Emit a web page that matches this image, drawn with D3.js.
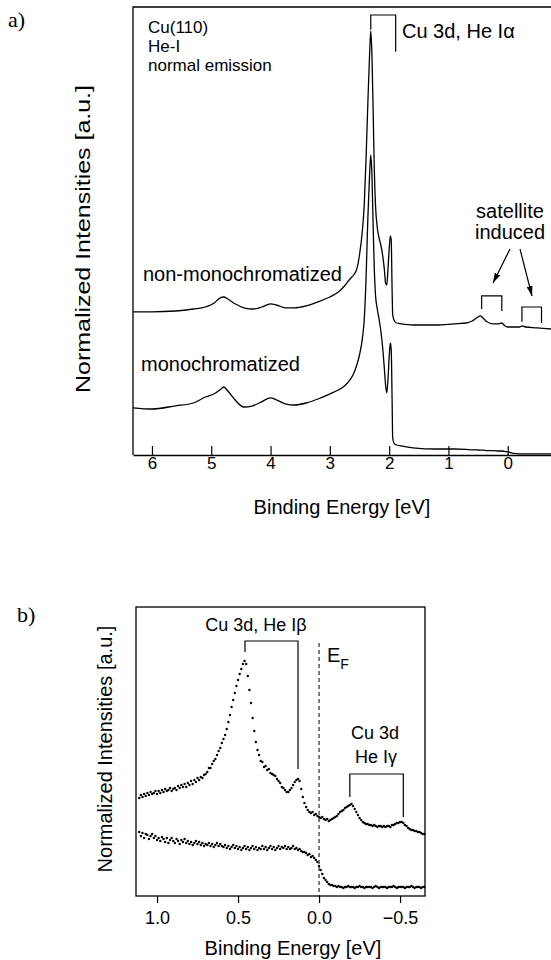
<!DOCTYPE html>
<html>
<head>
<meta charset="utf-8">
<script src="https://cdn.jsdelivr.net/npm/d3@7"></script>
<style>
body { margin: 0; background: #fff; }
svg text { font-family: "Liberation Sans", Arial, Helvetica, sans-serif; fill: #000; }
</style>
</head>
<body>
<script>
// panel a) : Cu(110) He-I spectra, binding energy in eV
var aEnergy = [6.32, 6.0, 5.6, 5.3, 5.1, 4.95, 4.85, 4.79, 4.72, 4.6, 4.45, 4.3, 4.15, 4.0, 3.9,
  3.75, 3.6, 3.4, 3.2, 3.0, 2.85, 2.75, 2.66, 2.6, 2.55, 2.5, 2.45, 2.42, 2.39, 2.36, 2.33,
  2.31, 2.29, 2.27, 2.25, 2.23, 2.2, 2.17, 2.14, 2.11, 2.08, 2.06, 2.04, 2.02, 2.0, 1.98,
  1.965, 1.95, 1.94, 1.92, 1.88, 1.8, 1.6, 1.2, 0.9, 0.7, 0.6, 0.52, 0.46, 0.42, 0.35, 0.25,
  0.15, 0.1, 0.05, 0.0, -0.1, -0.2, -0.24, -0.3, -0.5, -0.73];
var aNonMono = [35.8, 35.8, 36.0, 36.5, 37.0, 38.0, 39.3, 39.5, 39.0, 37.8, 36.8, 36.5, 37.0, 37.8, 37.5,
  36.8, 36.8, 37.3, 38.3, 39.5, 40.8, 42.3, 44.0, 45.0, 46.3, 50.0, 56.3, 62.5, 73.8, 87.5, 100.0,
  106.0, 100.0, 86.3, 71.3, 62.5, 56.8, 54.3, 52.5, 50.0, 46.3, 43.0, 42.5, 46.3, 51.3, 54.8,
  53.8, 41.3, 35.0, 33.8, 33.0, 32.8, 32.5, 32.5, 32.8, 33.0, 33.5, 34.3, 34.8, 34.3, 33.3, 32.8,
  32.8, 33.0, 32.3, 32.0, 32.0, 32.0, 32.3, 32.0, 31.8, 31.5];
var aMono = [11.8, 11.5, 12.3, 13.0, 14.5, 15.3, 16.3, 17.0, 16.0, 13.8, 12.0, 12.3, 13.3, 14.3, 13.8,
  12.8, 12.5, 13.0, 14.0, 15.3, 16.3, 17.3, 18.8, 20.3, 22.3, 25.0, 29.3, 33.8, 43.8, 58.8, 70.0,
  75.0, 70.0, 57.5, 46.3, 40.0, 36.5, 34.0, 31.0, 27.0, 21.5, 17.5, 15.5, 18.8, 24.3, 28.0,
  26.3, 13.8, 4.3, 3.0, 2.5, 2.3, 1.8, 1.5, 1.5, 1.4, 1.3, 1.3, 1.2, 1.2, 1.1, 1.1,
  1.0, 1.0, 0.9, 0.8, 0.4, 0.3, 0.3, 0.3, 0.3, 0.3];
var aTicks = [6, 5, 4, 3, 2, 1, 0];

// panel b) : near E_F, upper = He I beta/gamma satellites, lower = monochromatized
var bEnergy = d3.range(111, -66, -1).map(function(d) { return d / 100; });
var bUpper = [49, 50.5, 49.5, 51, 50, 51.5, 50.5, 52, 51, 51.5, 52.5, 51,
  52.5, 51.5, 53, 52, 53.5, 52.5, 53, 54, 52.5, 53.5,
  54, 53, 55, 54, 55.5, 54.5, 56, 54.5, 56.5, 55.5,
  57.5, 56, 58, 57, 59, 58, 59.5, 59, 60.5, 61,
  62, 64, 64, 66, 67.5, 68.5, 70.5, 72.5, 74, 76.5,
  78.5, 80.5, 83.5, 87, 90.5, 94.5, 98, 101.5, 105, 108,
  111, 113.5, 116, 117.5, 116, 110, 103, 96.5, 89, 82.5,
  77, 73, 70.5, 67.5, 67, 64.5, 65, 63, 63.5, 61.5,
  61, 60.5, 60, 58.5, 57.5, 56.5, 54.5, 54, 53, 52,
  52, 53, 54, 55.5, 57, 58, 58.5, 57.5, 53.5, 49.5,
  46.5, 44.5, 43, 42, 41.5, 42, 40.5, 41, 40, 39.5,
  39, 39.5, 38.5, 38, 38.5, 37.5, 38, 38.5, 39, 39.5,
  40, 41, 42, 42.5, 43, 44, 44.5, 45, 45.5, 46,
  45, 43.5, 42, 40.5, 39, 38, 37, 36.5, 36, 36,
  35.5, 35.5, 35, 35.5, 35, 34.5, 35, 35, 34.5, 35,
  34.5, 35, 35, 34.5, 35.5, 35.5, 36, 36.5, 36.5, 37,
  37, 36.5, 35.5, 35, 34, 33.5, 33, 33, 32.5, 32.5,
  32, 32, 31.5, 31, 31];
var bLower = [32, 30, 31.5, 29, 31, 30.5, 28.5, 30, 31, 29, 30, 28,
  29, 27.5, 29.5, 28.5, 27, 29, 26.5, 28, 29, 27.5,
  26.5, 28.5, 27.5, 26, 28, 27, 28.5, 26.5, 27.5, 26,
  27, 25.5, 26.5, 27.5, 26, 27, 25.5, 26.5, 25, 26,
  25.5, 26.5, 25, 26, 24.5, 25.5, 26.5, 25, 26, 25,
  24.5, 25.5, 24, 25, 23.5, 24.5, 25.5, 24, 25, 23.5,
  24.5, 23, 24, 25, 23.5, 24.5, 23, 24, 25, 23.5,
  24.5, 23, 24, 23.5, 25, 23.5, 24.5, 23, 24, 25,
  23.5, 24.5, 23, 24, 25, 23.5, 24.5, 24, 25, 23.5,
  24.5, 23.5, 24, 25, 23.5, 24, 23, 23.5, 22.5, 22,
  22, 21.5, 20.5, 21, 19.5, 20, 19, 18, 17, 15,
  13, 11, 9, 8, 7, 6, 5.5, 5.5, 5, 5,
  4.5, 5, 4.5, 4.5, 4, 4.5, 4.5, 5, 4.5, 4.5,
  4.5, 4, 4.5, 4.5, 5, 4.5, 4.5, 4, 4.5, 4.5,
  4.5, 4.5, 4, 4.5, 5, 4.5, 4, 4.5, 4.5, 4.5,
  4.5, 4, 4.5, 4.5, 4.5, 5, 4.5, 4, 4.5, 4.5,
  4.5, 4.5, 4, 4.5, 4.5, 4.5, 5, 4.5, 4, 4.5,
  4.5, 4.5, 4, 4.5, 4.5];
var bTicks = [1.0, 0.5, 0.0, -0.5];

// annotation brackets: [E left, E right, I top, I leg left, I leg right]
var aBrackets = [[2.31, 1.89, 110, 106.3, 100.8],
                 [0.44, 0.10, 39.8, 36.5, 36.0],
                 [-0.24, -0.57, 37.0, 33.3, 33.0]];
var bBrackets = [[0.457, 0.13, 127.5, 122, 63.5],
                 [-0.19, -0.52, 61, 49.5, 39.5]];

var svg = d3.select('body').append('svg')
    .attr('width', 551)
    .attr('height', 960);

svg.append('defs').append('marker')
    .attr('id', 'arrow')
    .attr('markerUnits', 'userSpaceOnUse')
    .attr('markerWidth', 10)
    .attr('markerHeight', 6)
    .attr('refX', 10)
    .attr('refY', 3)
    .attr('orient', 'auto')
  .append('path')
    .attr('d', 'M0,0 L10,3 L0,6 Z')
    .attr('fill', '#000');

function drawBrackets(g, list, x, y) {
    list.forEach(function(b) {
	var x0 = x(b[0]), x1 = x(b[1]), yt = y(b[2]);
	g.append('path')
	    .attr('d', 'M' + x0 + ',' + y(b[3]) + 'V' + yt + 'H' + x1 + 'V' + y(b[4]))
	    .attr('fill', 'none')
	    .attr('stroke', '#000')
	    .attr('stroke-width', 1.2);
    });
}

// ---------- panel a) ----------
var xA = d3.scaleLinear().domain([6.32, -0.73]).range([133, 551]);
var yA = d3.scaleLinear().domain([0, 112]).range([455, 7]);

var lineA = d3.line()
    .x(function(d) { return xA(d[0]); })
    .y(function(d) { return yA(d[1]); })
    .curve(d3.curveMonotoneX);

var gA = svg.append('g');

[aNonMono, aMono].forEach(function(series) {
    gA.append('path')
	.datum(aEnergy.map(function(e, i) { return [e, series[i]]; }))
	.attr('d', lineA)
	.attr('fill', 'none')
	.attr('stroke', '#000')
	.attr('stroke-width', 1.3)
	.attr('stroke-linejoin', 'round');
});

gA.append('path')
    .attr('d', 'M551,7H133V455')
    .attr('fill', 'none')
    .attr('stroke', '#000')
    .attr('stroke-width', 1.3);

var axA = gA.append('g')
    .attr('transform', 'translate(0,455)')
    .call(d3.axisBottom(xA).tickValues(aTicks).tickSizeInner(-9).tickSizeOuter(0)
	  .tickPadding(2).tickFormat(d3.format('d')));
axA.attr('font-family', null).attr('font-size', null);
axA.select('.domain').attr('stroke-width', 1.3);
axA.selectAll('line').attr('stroke-width', 1.2);
axA.selectAll('text').style('font-size', '17px');

gA.append('text')
    .attr('x', 342)
    .attr('y', 514)
    .attr('text-anchor', 'middle')
    .style('font-size', '20px')
    .text('Binding Energy [eV]');

gA.append('text')
    .attr('transform', 'translate(82,239) rotate(-90)')
    .attr('text-anchor', 'middle')
    .attr('dominant-baseline', 'central')
    .attr('textLength', 308)
    .attr('lengthAdjust', 'spacingAndGlyphs')
    .style('font-size', '21px')
    .text('Normalized Intensities [a.u.]');

gA.selectAll('.info')
    .data(['Cu(110)', 'He-I', 'normal emission'])
    .enter().append('text')
    .attr('class', 'info')
    .attr('x', 148)
    .attr('y', function(d, i) { return 33 + i * 19; })
    .style('font-size', '17px')
    .text(function(d) { return d; });

gA.append('text').attr('x', 402).attr('y', 38).style('font-size', '20px').text('Cu 3d, He I\u03b1');
gA.append('text').attr('x', 143).attr('y', 281).style('font-size', '20px').text('non-monochromatized');
gA.append('text').attr('x', 141).attr('y', 371).style('font-size', '20px').text('monochromatized');
gA.append('text').attr('x', 510).attr('y', 218).attr('text-anchor', 'middle').style('font-size', '20px').text('satellite');
gA.append('text').attr('x', 510).attr('y', 239).attr('text-anchor', 'middle').style('font-size', '20px').text('induced');

drawBrackets(gA, aBrackets, xA, yA);

[[510, 249, 493, 283], [520, 249, 532, 296]].forEach(function(a) {
    gA.append('line')
	.attr('x1', a[0]).attr('y1', a[1]).attr('x2', a[2]).attr('y2', a[3])
	.attr('stroke', '#000')
	.attr('stroke-width', 1.2)
	.attr('marker-end', 'url(#arrow)');
});

svg.append('text')
    .attr('x', 8)
    .attr('y', 27)
    .style('font-family', '"Liberation Serif", "Times New Roman", serif')
    .style('font-size', '22px')
    .text('a)');

// ---------- panel b) ----------
var xB = d3.scaleLinear().domain([1.13, -0.654]).range([136, 425]);
var yB = d3.scaleLinear().domain([0, 144.5]).range([896, 607]);

var gB = svg.append('g');

gB.append('rect')
    .attr('x', 136).attr('y', 607)
    .attr('width', 289).attr('height', 289)
    .attr('fill', 'none')
    .attr('stroke', '#000')
    .attr('stroke-width', 1.3);

gB.append('line')
    .attr('x1', xB(0)).attr('x2', xB(0))
    .attr('y1', 643).attr('y2', 896)
    .attr('stroke', '#000')
    .attr('stroke-width', 1)
    .attr('stroke-dasharray', '4,3');

[bUpper, bLower].forEach(function(series, k) {
    gB.selectAll('.dot' + k)
	.data(bEnergy.map(function(e, i) { return [e, series[i]]; }))
	.enter().append('circle')
	.attr('class', 'dot' + k)
	.attr('cx', function(d) { return xB(d[0]); })
	.attr('cy', function(d) { return yB(d[1]); })
	.attr('r', 1.2)
	.attr('fill', '#000');
});

var axB = gB.append('g')
    .attr('transform', 'translate(0,896)')
    .call(d3.axisBottom(xB).tickValues(bTicks).tickSizeInner(7).tickSizeOuter(0)
	  .tickPadding(8).tickFormat(d3.format('.1f')));
axB.attr('font-family', null).attr('font-size', null);
axB.select('.domain').remove();
axB.selectAll('line').attr('stroke-width', 1.2);
axB.selectAll('text').style('font-size', '18px');

gB.append('text')
    .attr('x', 293)
    .attr('y', 955)
    .attr('text-anchor', 'middle')
    .style('font-size', '20px')
    .text('Binding Energy [eV]');

gB.append('text')
    .attr('transform', 'translate(105,749) rotate(-90)')
    .attr('text-anchor', 'middle')
    .attr('dominant-baseline', 'central')
    .style('font-size', '20px')
    .text('Normalized Intensities [a.u.]');

gB.append('text').attr('x', 256).attr('y', 631).attr('text-anchor', 'middle').style('font-size', '18px').text('Cu 3d, He I\u03b2');
gB.append('text').attr('x', 375).attr('y', 739).attr('text-anchor', 'middle').style('font-size', '18px').text('Cu 3d');
gB.append('text').attr('x', 376).attr('y', 763).attr('text-anchor', 'middle').style('font-size', '18px').text('He I\u03b3');

var ef = gB.append('text').attr('x', 327).attr('y', 662).style('font-size', '20px');
ef.append('tspan').text('E');
ef.append('tspan').attr('dy', 7).style('font-size', '14px').text('F');

drawBrackets(gB, bBrackets, xB, yB);

svg.append('text')
    .attr('x', 17)
    .attr('y', 622)
    .style('font-family', '"Liberation Serif", "Times New Roman", serif')
    .style('font-size', '22px')
    .text('b)');
</script>
</body>
</html>
